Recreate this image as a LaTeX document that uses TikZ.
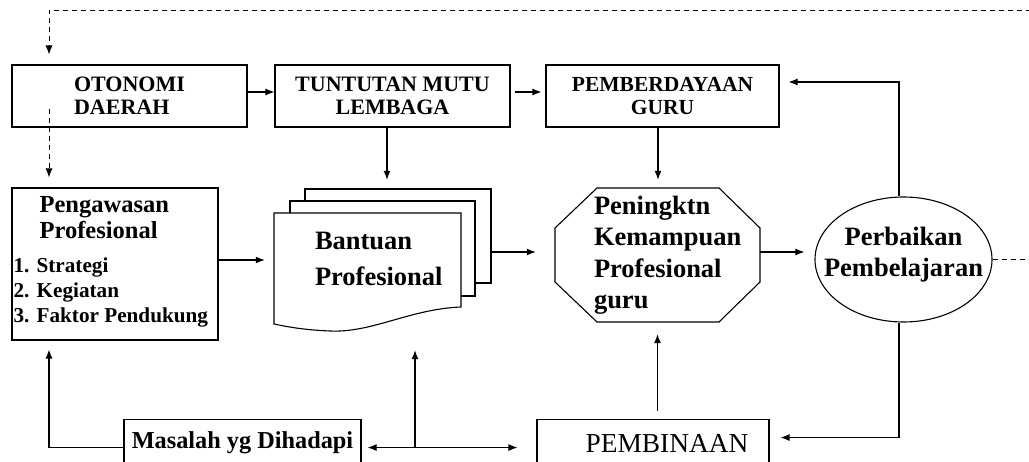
\documentclass[tikz,border=0pt]{standalone}
\usepackage{fontspec}
\setmainfont{Liberation Serif}
\usepackage{tikz}
\usetikzlibrary{shapes,arrows.meta,fit,positioning}

\newcommand{\fsz}[2]{\fontsize{#1}{#2}\selectfont}

\tikzset{
  box/.style={draw, line width=1.1pt, rectangle, inner sep=0pt},
  arr/.style={line width=1.1pt, -{Latex[length=9pt,width=7pt]}},
  dblarr/.style={line width=1.1pt, {Latex[length=9pt,width=7pt]}-{Latex[length=9pt,width=7pt]}},
  dashline/.style={line width=0.9pt, dash pattern=on 5pt off 4pt},
  dasharr/.style={dashline, -{Latex[length=9pt,width=7pt]}},
  sheet/.style={draw, line width=1.1pt, fill=white},
  txt/.style={inner sep=0pt, align=left},
}

\begin{document}
\begin{tikzpicture}[x=1pt, y=-1pt, font=\bfseries]
\useasboundingbox (0,0) rectangle (1029,462);
\clip (0,0) rectangle (1029,462);

% baris atas
\node[box, minimum width=235pt, minimum height=62pt, align=left, font=\bfseries\fsz{22}{23}] (oto) at (129.5,96) {OTONOMI\\DAERAH};
\node[box, minimum width=235pt, minimum height=62pt, align=center, font=\bfseries\fsz{22}{23}] (tunt) at (392.5,96) {TUNTUTAN MUTU\\LEMBAGA};
\node[box, minimum width=233pt, minimum height=62pt, align=center, font=\bfseries\fsz{21.5}{23}] (pemb) at (662.5,96) {PEMBERDAYAAN\\GURU};

% pengawasan
\node[box, minimum width=206pt, minimum height=152pt] (peng) at (115,264) {};
\node[txt, below right=9pt and 28pt of peng.north west, font=\bfseries\fsz{24.5}{25.5}] (pengT) {Pengawasan\\Profesional};
\node[txt, below right=70pt and 2pt of peng.north west, font=\bfseries\fsz{21.2}{25}] (pengL) {1. Strategi\\2. Kegiatan\\3. Faktor Pendukung};

% bantuan (tumpukan dokumen)
\node[inner sep=0pt, minimum width=217pt, minimum height=142pt] (bant) at (382.5,260) {};
\draw[sheet] (305,189) rectangle (491,283);
\draw[sheet] (290,201) rectangle (475,296);
\draw[sheet] (274,213) -- (461,213) -- (461,307) .. controls (410,309) and (372,333) .. (330,331) .. controls (305,330) and (288,327) .. (274,324) -- cycle;
\node[txt, below right=43pt and 41pt of bant.north west, font=\bfseries\fsz{26.5}{36}] (bantT) {Bantuan\\Profesional};

% peningkatan kemampuan
\node[inner sep=0pt, minimum width=205pt, minimum height=134pt] (oct) at (657.5,255) {};
\draw[line width=1.1pt] (597,188) -- (719,188) -- (760,228) -- (760,282) -- (719,322) -- (597,322) -- (555,282) -- (555,228) -- cycle;
\node[txt, below right=8pt and 39pt of oct.north west, font=\bfseries\fsz{26.5}{31.5}] (octT) {Peningktn\\Kemampuan\\Profesional\\guru};

% perbaikan
\node[ellipse, draw, line width=1.1pt, minimum width=177pt, minimum height=125pt, inner sep=0pt] (ell) at (903.5,259.5) {};
\node[align=center, inner sep=0pt, font=\bfseries\fsz{26.5}{31}] (ellT) at ([yshift=5pt]ell.center) {Perbaikan\\Pembelajaran};

% baris bawah
\node[box, anchor=north, minimum width=237pt, minimum height=46pt, font=\bfseries\fsz{24.3}{25}] (masa) at (242.5,419) {Masalah yg Dihadapi};
\node[box, anchor=north, minimum width=232pt, minimum height=46pt] (pembin) at (653,419) {};
\node[font=\mdseries\fsz{27.4}{28}] (pembinT) at ([xshift=14pt,yshift=-1pt]pembin.center) {PEMBINAAN};

\coordinate (loopL) at (49,10);
\coordinate (loopR) at (1040,10);
\coordinate (sideR) at (1040,259);
\coordinate (junc) at (415,447);

% umpan balik putus-putus
\draw[dasharr, shorten >=10pt] (loopR) -- (loopL) -- (loopL |- oto.north);
\draw[dashline] (ell.east) -- (ell.east -| sideR);
\draw[dasharr, shorten >=10pt] ([yshift=19pt]loopL |- oto.south) -- (loopL |- peng.north);

\draw[arr] ([yshift=4pt]oto.east) -- ([yshift=4pt]tunt.west);
\draw[arr, shorten <=4pt, shorten >=4pt] ([yshift=4pt]tunt.east) -- ([yshift=4pt]pemb.west);
\draw[arr, shorten >=9pt] ([xshift=-5.5pt]tunt.south) -- ([xshift=-5.5pt]tunt.south |- bant.north);
\draw[arr, shorten >=8pt] ([xshift=-4.5pt]pemb.south) -- ([xshift=-4.5pt]pemb.south |- oct.north);
\draw[arr, shorten >=9pt] ([yshift=4pt]peng.east) -- ([yshift=4pt]peng.east -| bant.west);
\draw[arr, shorten >=19pt] ([yshift=8pt]bant.east) -- ([yshift=8pt]bant.east -| oct.west);
\draw[arr, shorten >=10pt] ([yshift=3pt]oct.east) -- ([yshift=3pt]oct.east -| ell.west);
\draw[arr, shorten >=9pt] ([xshift=-4.5pt]ell.north) |- ([yshift=14pt]pemb.east);
\draw[arr, shorten >=11pt] ([xshift=-4.5pt]ell.south) |- ([yshift=5pt]pembin.east);
\draw[arr, shorten <=8pt, shorten >=12pt] (oct.south |- pembin.north) -- (oct.south);
\draw[arr, shorten >=9pt] ([yshift=-5pt]masa.west) -| (loopL |- peng.south);
\draw[dblarr, shorten <=6pt, shorten >=19pt] ([yshift=-5pt]masa.east) -- ([yshift=-5pt]masa.east -| pembin.west);
\draw[arr, shorten >=19pt] (junc) -- (junc |- bant.south);

\end{tikzpicture}
\end{document}
